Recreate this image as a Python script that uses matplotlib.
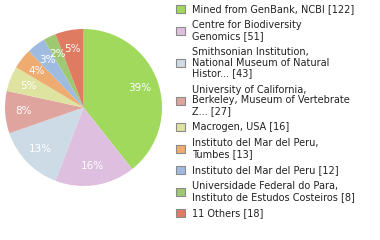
import matplotlib
matplotlib.use("Agg")
import matplotlib.pyplot as plt
from matplotlib.patches import Patch

# Daten aus der Vorlage
labels = [
    "Mined from GenBank, NCBI [122]",
    "Centre for Biodiversity\nGenomics [51]",
    "Smithsonian Institution,\nNational Museum of Natural\nHistor... [43]",
    "University of California,\nBerkeley, Museum of Vertebrate\nZ... [27]",
    "Macrogen, USA [16]",
    "Instituto del Mar del Peru,\nTumbes [13]",
    "Instituto del Mar del Peru [12]",
    "Universidade Federal do Para,\nInstituto de Estudos Costeiros [8]",
    "11 Others [18]",
]
counts = [122, 51, 43, 27, 16, 13, 12, 8, 18]
colors = ["#a0d95c", "#dfbfe0", "#cddbe6", "#e0a49e", "#dee3a0",
          "#efac71", "#9fbce0", "#9fc872", "#df7b60"]

W, H = 380, 240
fig = plt.figure(figsize=(W / 100, H / 100), dpi=100)

# Kreis: Mittelpunkt (83.5, 107.5) px, Radius 78.5 px
cx, cy, r = 83.5, 107.5, 78.5
ax = fig.add_axes([(cx - r) / W, (H - cy - r) / H, 2 * r / W, 2 * r / H])

wedges, _, autotexts = ax.pie(
    counts, colors=colors, startangle=90, counterclock=False,
    autopct=lambda p: f"{int(p + 1e-9)}%",
    pctdistance=0.76, wedgeprops=dict(linewidth=0),
    textprops=dict(color="white", fontsize=7.5),
)
ax.set_xlim(-1, 1)
ax.set_ylim(-1, 1)
ax.set_aspect("auto")

handles = [Patch(facecolor=c, edgecolor="#8a8a8a", linewidth=0.8) for c in colors]
leg = fig.legend(
    handles, labels, loc="upper left",
    bbox_to_anchor=(176 / W, 1 - 4 / H),
    frameon=False, fontsize=7, borderpad=0, borderaxespad=0,
    handlelength=0.9, handleheight=0.9, handletextpad=0.7,
    labelspacing=0.64,
)
for t in leg.get_texts():
    t.set_color("#222222")
    t.set_linespacing(1.08)

fig.savefig("out.png", dpi=100)
